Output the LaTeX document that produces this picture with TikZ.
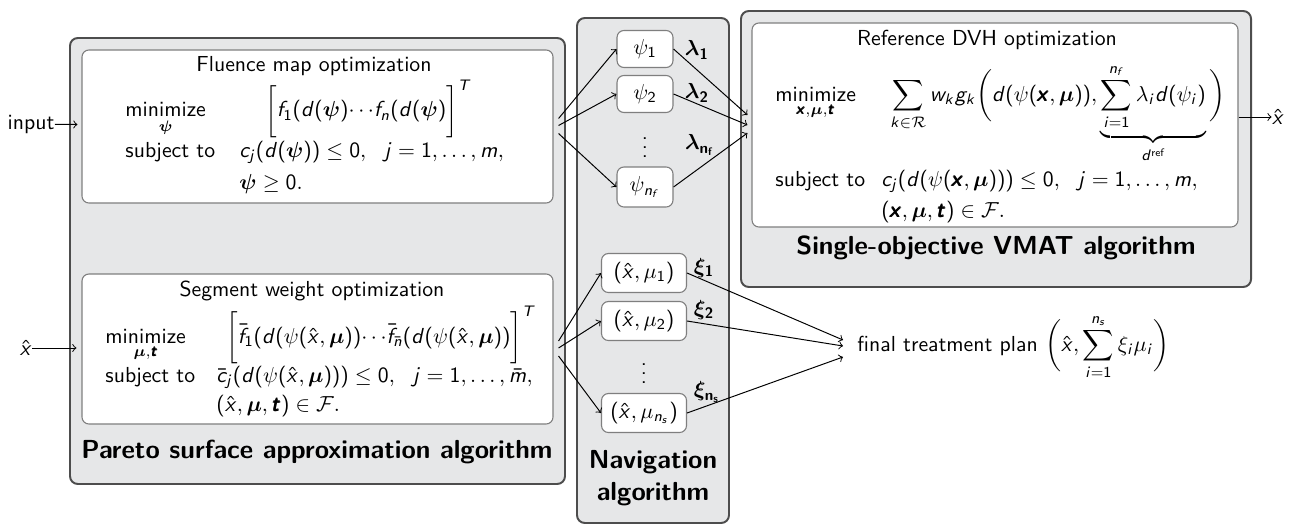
\documentclass[tikz,border=0pt]{standalone}
\usepackage{amsmath}
\usetikzlibrary{fit,calc}

\renewcommand\familydefault{\sfdefault}

% Math set in sans serif: slanted sans Latin letters, upright sans digits and delimiters
\DeclareSymbolFont{sfslanted}{OT1}{cmss}{m}{sl}
\SetSymbolFont{sfslanted}{bold}{OT1}{cmss}{bx}{n}
\SetSymbolFont{operators}{normal}{OT1}{cmss}{m}{n}
\SetSymbolFont{operators}{bold}{OT1}{cmss}{bx}{n}
\makeatletter
\@tfor\@tmp:=abcdefghijklmnopqrstuvwxyzABCDEFGHIJKLMNOPQRSTUVWXYZ\do{%
  \edef\@next{\noexpand\DeclareMathSymbol{\@tmp}{\noexpand\mathalpha}{sfslanted}{`\@tmp}}\@next}
\makeatother

\definecolor{panel}{HTML}{E6E7E8}
\definecolor{framegray}{HTML}{4D4D4D}
\definecolor{edgegray}{HTML}{7F7F7F}
\newcommand{\pxu}{0.46pt}
\newcommand{\bs}[1]{\boldsymbol{#1}}
\newcommand{\bl}[1]{\pmb{#1}}

\begin{document}
\begin{tikzpicture}[x=\pxu,y=-\pxu,
  algobox/.style={draw=framegray, fill=panel, line width=0.9pt, rounded corners=3.6pt, inner sep=0pt},
  probbox/.style={draw=edgegray, fill=white, line width=0.5pt, rounded corners=3.2pt, inner sep=0pt},
  varbox/.style={draw=edgegray, fill=white, line width=0.5pt, rounded corners=3.2pt, inner sep=0pt, minimum height=37*\pxu},
  link/.style={->, line width=0.45pt},
  algotitle/.style={font=\large\bfseries, inner sep=0pt, align=center},
  plain/.style={inner sep=0pt},
  row/.style={inner sep=0pt, anchor=base west},
]
\useasboundingbox (0,0) rectangle (1294,525);

% algorithm panels and problem boxes
\node[algobox, fit={(70,38)(565,484)}] (pareto) {};
\node[probbox, fit={(82,50)(553,203)}] (fluence) {};
\node[probbox, fit={(82,274)(553,424)}] (segment) {};
\node[algobox, fit={(577,18)(729,523)}] (nav) {};
\node[algobox, fit={(741,11)(1251,287)}] (vmat) {};
\node[probbox, fit={(752,23)(1238,227)}] (ref) {};

% panel titles
\node[algotitle] (paretotitle) at (317,452) {Pareto surface approximation algorithm};
\node[algotitle] (navtitle) at (653,478) {Navigation\\[1pt] algorithm};
\node[algotitle] (vmattitle) at (996,248) {Single-objective VMAT algorithm};

% fluence map optimization
\node[plain] (fluencehead) at (314,66) {Fluence map optimization};
\node[row] (fmin) at (125,117) {$\underset{\bs{\psi}}{\text{minimize}}$};
\node[row] (fobj) at (265,117) {$\bigg[f_1(d(\bs{\psi}){\cdots}f_n(d(\bs{\psi})\bigg]^{T}$};
\node[row] (fsub) at (125,157) {subject to};
\node[row] (fcon) at (239,157) {$c_j(d(\bs{\psi}))\le 0,\ \ j=1,\dots,m,$};
\node[row] (fpos) at (239,189) {$\bs{\psi}\ge 0.$};

% segment weight optimization
\node[plain] (segmenthead) at (312,291) {Segment weight optimization};
\node[row] (smin) at (105,343) {$\underset{\bs{\mu},\bl{t}}{\text{minimize}}$};
\node[row] (sobj) at (226,343) {$\bigg[\bar f_1(d(\psi(\hat x,\bs{\mu})){\cdots}\bar f_{\bar n}(d(\psi(\hat x,\bs{\mu}))\bigg]^{T}$};
\node[row] (ssub) at (105,382) {subject to};
\node[row] (scon) at (216,382) {$\bar c_j(d(\psi(\hat x,\bs{\mu})))\le 0,\ \ j=1,\dots,\bar m,$};
\node[row] (sfea) at (216,411) {$(\hat x,\bs{\mu},\bl{t})\in\mathcal{F}.$};

% reference DVH optimization
\node[plain] (refhead) at (987,40) {Reference DVH optimization};
\node[row] (rmin) at (775,101) {$\underset{\bl{x},\bs{\mu},\bl{t}}{\text{minimize}}$};
\node[row] (robj) at (890,101) {$\displaystyle\sum_{k\in\mathcal{R}} w_k g_k\bigg(d(\psi(\bl{x},\bs{\mu})),\underbrace{\sum_{i=1}^{n_f}\lambda_i d(\psi_i)}_{d^{\text{ref}}}\bigg)$};
\node[row] (rsub) at (775,186) {subject to};
\node[row] (rcon) at (881,186) {$c_j(d(\psi(\bl{x},\bs{\mu})))\le 0,\ \ j=1,\dots,m,$};
\node[row] (rfea) at (881,217) {$(\bl{x},\bs{\mu},\bl{t})\in\mathcal{F}.$};

% fluence maps in the navigation panel
\node[varbox, minimum width=56*\pxu] (psi1) at (645,49) {$\psi_1$};
\node[varbox, minimum width=56*\pxu] (psi2) at (645,94) {$\psi_2$};
\node[plain] (psidots) at (645,141) {$\vdots$};
\node[varbox, minimum width=56*\pxu, minimum height=40*\pxu] (psinf) at (645,187) {$\psi_{n_f}$};

% segment-weight solutions in the navigation panel
\node[varbox, minimum width=85*\pxu, minimum height=39*\pxu] (mu1) at (644,273) {$(\hat x,\mu_1)$};
\node[varbox, minimum width=85*\pxu, minimum height=39*\pxu] (mu2) at (644,321) {$(\hat x,\mu_2)$};
\node[plain] (mudots) at (644,367) {$\vdots$};
\node[varbox, minimum width=85*\pxu, minimum height=39*\pxu] (muns) at (644,413) {$(\hat x,\mu_{n_s})$};

% weights
\node[plain] (lam1) at (697,50) {$\bs{\lambda_1}$};
\node[plain] (lam2) at (697,93) {$\bs{\lambda_2}$};
\node[plain] (lamnf) at (700,145) {$\bs{\lambda_{n_f}}$};
\node[plain] (xi1) at (704,268) {$\bs{\xi_1}$};
\node[plain] (xi2) at (704,310) {$\bs{\xi_2}$};
\node[plain] (xins) at (707,392) {$\bs{\xi_{n_s}}$};

% inputs and outputs
\node[plain] (input) at (31,124) {input};
\node[plain] (xin) at (26,348) {$\hat x$};
\node[plain] (xout) at (1278,117) {$\hat x$};
\node[plain, anchor=west] (final) at (857,347) {final treatment plan $\bigg(\hat x,\displaystyle\sum_{i=1}^{n_s}\xi_i\mu_i\bigg)$};

% connectors
\draw[link] (input) -- ($(fluence.west)+(-4,-2)$);
\draw[link] (xin) -- ($(segment.west)+(-5,-1)$);
\draw[link] ($(fluence.east)+(5,-8)$) -- (psi1.west);
\draw[link] ($(fluence.east)+(5,-1)$) -- (psi2.west);
\draw[link] ($(fluence.east)+(5,7)$) -- (psinf.west);
\draw[link] ($(segment.east)+(5,-8)$) -- (mu1.west);
\draw[link] ($(segment.east)+(5,-1)$) -- (mu2.west);
\draw[link] ($(segment.east)+(5,7)$) -- (muns.west);
\draw[link] (psi1.east) -- ($(ref.west)+(-4,-10)$);
\draw[link] (psi2.east) -- ($(ref.west)+(-4,0)$);
\draw[link] (psinf.east) -- ($(ref.west)+(-4,8)$);
\draw[link] (mu1.east) -- ($(final.west)+(-14,-7)$);
\draw[link] (mu2.east) -- ($(final.west)+(-14,-1)$);
\draw[link] (muns.east) -- ($(final.west)+(-14,10)$);
\draw[link] ($(ref.east)+(0,-8)$) -- (xout);
\end{tikzpicture}
\end{document}
